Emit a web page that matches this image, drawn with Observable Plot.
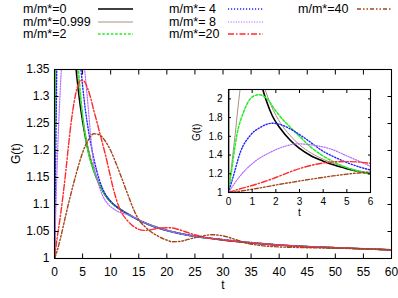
<!DOCTYPE html>
<html><head><meta charset="utf-8">
<script src="https://cdn.jsdelivr.net/npm/d3@7"></script>
<script src="https://cdn.jsdelivr.net/npm/@observablehq/plot@0.6"></script>
<style>
body{margin:0;background:#fff;font-family:"Liberation Sans",Arial,Helvetica,sans-serif;}
#wrap{position:relative;width:398px;height:298px;overflow:hidden;background:#fff}
#legend{position:relative;width:398px;height:48px;font-size:12.5px;color:#000}
.lab{position:absolute;white-space:pre;line-height:12px}
.smp{position:absolute}
#inset{position:absolute;left:190px;top:80px}
svg{display:block}
</style></head><body>
<div id="wrap"><div id="legend"></div><div id="main"></div><div id="inset"></div></div>
<script>
// ---- data ----
const seriesLabels = ["m/m*=0","m/m*=0.999","m/m*=2","m/m*= 4","m/m*= 8","m/m*=20","m/m*=40"];

const t0 = [0,0.01,1.0,1.45,1.6,1.85,2.2,2.6,3,3.5,4,4.5,5,5.5,6,7,8,9,10,11,12,13,14,15,16.5,18,20,22,25,28,32,36,40,45,50,55,60];
const g0 = [1,3.2,2.7,2.1,1.98,1.82,1.68,1.56,1.47,1.39,1.335,1.29,1.255,1.225,1.2,1.163,1.137,1.118,1.105,1.096,1.089,1.083,1.077,1.071,1.064,1.058,1.052,1.047,1.041,1.037,1.032,1.028,1.025,1.022,1.02,1.018,1.016];

const t0999 = [0,0.25,0.5,1.0,1.52,1.8,2.2,2.6,3,3.5,4,4.5,5,5.5,6,7,8,9,10,12,15,20,25,30,40,50,60];
const g0999 = [1,1.55,2.12,2.6,2.12,1.93,1.74,1.61,1.51,1.42,1.355,1.305,1.265,1.232,1.205,1.165,1.138,1.119,1.106,1.09,1.072,1.053,1.041,1.035,1.025,1.02,1.016];

const t2 = [0,0.14,0.35,0.64,1.0,1.3,1.63,2.0,2.4,2.6,3,3.5,4,4.5,5,5.5,6,7,8,9,10,12,15,20,25,30,40,50,60];
const g2 = [1,1.25,1.61,1.86,2.02,2.045,2.0,1.87,1.75,1.70,1.6,1.48,1.39,1.32,1.265,1.225,1.197,1.162,1.137,1.118,1.105,1.089,1.071,1.052,1.041,1.035,1.025,1.02,1.016];

const t4 = [0,0.21,0.5,0.92,1.34,1.85,2.2,2.6,3.17,4.0,4.5,5,5.5,6,7,8,9,10,12,15,20,25,30,40,50,60];
const g4 = [1,1.18,1.43,1.61,1.695,1.74,1.725,1.68,1.59,1.44,1.375,1.32,1.275,1.24,1.185,1.145,1.12,1.106,1.089,1.071,1.052,1.041,1.035,1.025,1.02,1.016];

const t8 = [0,0.5,1.06,1.77,2.47,2.9,3.46,4.3,5.15,6,6.5,7,7.5,8,8.5,9.5,10.5,11.5,12.5,14,16.5,20,25,30,40,50,60];
const g8 = [1,1.18,1.32,1.43,1.5,1.52,1.51,1.466,1.374,1.28,1.22,1.175,1.15,1.132,1.118,1.101,1.092,1.086,1.083,1.077,1.064,1.052,1.041,1.035,1.025,1.02,1.016];

const t20 = [0,0.5,1,1.5,2,2.5,3,3.5,4,4.5,5,5.5,6,6.5,7,7.5,8,8.5,9,9.5,10,10.5,11,11.5,12,13,14,15,16,17,18.5,20.5,22,24,26,28,32,36,40,45,50,55,60];
const g20 = [1,1.04,1.075,1.115,1.16,1.21,1.255,1.29,1.315,1.328,1.33,1.325,1.312,1.295,1.274,1.255,1.235,1.215,1.195,1.173,1.15,1.128,1.11,1.095,1.084,1.07,1.06,1.054,1.052,1.053,1.056,1.057,1.054,1.047,1.041,1.037,1.032,1.028,1.025,1.022,1.02,1.018,1.016];

const t40 = [0,0.5,1,1.5,2,2.5,3,3.5,4,4.5,5,5.5,6,7,8,9,10,11,12,13,14,15,16,17,18.5,20,21,22.5,24,26,28,30,32,34,36,39,45,50,55,60];
const g40 = [1,1.015,1.035,1.057,1.08,1.102,1.123,1.143,1.162,1.18,1.196,1.209,1.219,1.231,1.229,1.218,1.2,1.175,1.148,1.12,1.093,1.072,1.06,1.051,1.041,1.034,1.031,1.032,1.036,1.041,1.044,1.042,1.036,1.029,1.025,1.022,1.02,1.019,1.018,1.016];

const mainXTicks = [0,5,10,15,20,25,30,35,40,45,50,55,60];
const mainYTicks = [1,1.05,1.1,1.15,1.2,1.25,1.3,1.35];
const insetXTicks = [0,1,2,3,4,5,6];
const insetYTicks = [1,1.2,1.4,1.6,1.8,2];

// ---- styles ----
const seriesT = [t0,t0999,t2,t4,t8,t20,t40];
const seriesG = [g0,g0999,g2,g4,g8,g20,g40];
const styles = [
  {stroke:"#000000", strokeWidth:1.6, strokeDasharray:null},
  {stroke:"#a8927c", strokeWidth:1, strokeDasharray:null},
  {stroke:"#22ee22", strokeWidth:1.5, strokeDasharray:"2.5,1.8"},
  {stroke:"#2222ff", strokeWidth:1.4, strokeDasharray:"1.2,1.8"},
  {stroke:"#b46cff", strokeWidth:1.2, strokeDasharray:"1.2,1.4"},
  {stroke:"#ff2a2a", strokeWidth:1.4, strokeDasharray:"6,2,1.5,2"},
  {stroke:"#a3441a", strokeWidth:1.4, strokeDasharray:"4,2,1.5,2,1.5,2"}
];
const series = seriesLabels.map((name,i)=>({name, data: seriesT[i].map((t,j)=>({t, g: seriesG[i][j]})), style: styles[i]}));

function lineMarks(){
  return series.map(s => Plot.line(s.data, {x:"t", y:"g", curve:"monotone-x", clip:true, ...s.style}));
}

// ---- legend ----
const legend = document.getElementById("legend");
const legPos = [[23,98,8.5],[23,98,21.5],[23,98,34],[169,228,8.5],[169,228,21.5],[169,228,34],[298,357,8.5]];
series.forEach((s,i)=>{
  const [lx,sx,cy] = legPos[i];
  const lab = document.createElement("div");
  lab.className="lab"; lab.textContent=s.name;
  lab.style.left=lx+"px"; lab.style.top=(cy-6)+"px";
  legend.appendChild(lab);
  const svg = d3.create("svg").attr("class","smp").attr("width",36).attr("height",6)
    .style("left",sx+"px").style("top",(cy-3)+"px");
  svg.append("line").attr("x1",0).attr("x2",35).attr("y1",3).attr("y2",3)
    .attr("stroke",s.style.stroke).attr("stroke-width",s.style.strokeWidth)
    .attr("stroke-dasharray",s.style.strokeDasharray);
  legend.appendChild(svg.node());
});

// ---- main plot ----
const fmt = d => String(d);
const main = Plot.plot({
  width:398, height:250,
  marginTop:21, marginBottom:40, marginLeft:54, marginRight:7,
  style:{fontFamily:"Liberation Sans, Arial, sans-serif", fontSize:"12px", color:"#000", background:"transparent"},
  x:{domain:[0,60], label:null},
  y:{domain:[1,1.35], label:null},
  marks:[
    ...lineMarks(),
    Plot.frame({stroke:"#000", strokeWidth:1.1}),
    Plot.axisX(mainXTicks, {anchor:"bottom", tickSize:-4.5, tickPadding:13, tickFormat:fmt, label:null}),
    Plot.axisX(mainXTicks, {anchor:"top", tickSize:-4.5, tickFormat:()=>"", label:null}),
    Plot.axisY(mainYTicks, {anchor:"left", tickSize:-4.5, tickPadding:9.5, tickFormat:fmt, label:null}),
    Plot.axisY(mainYTicks, {anchor:"right", tickSize:-4.5, tickFormat:()=>"", label:null}),
    Plot.text(["G(t)"], {frameAnchor:"left", dx:-38, rotate:-90, fill:"#000", fontSize:12}),
    Plot.text(["t"], {frameAnchor:"bottom", dy:30, fill:"#000", fontSize:12})
  ]
});
document.getElementById("main").appendChild(main);

// ---- inset ----
const inset = Plot.plot({
  width:190, height:140,
  marginTop:9, marginBottom:28, marginLeft:38, marginRight:10,
  style:{fontFamily:"Liberation Sans, Arial, sans-serif", fontSize:"10px", color:"#000", background:"transparent"},
  x:{domain:[0,6], label:null},
  y:{domain:[1,2.1], label:null},
  marks:[
    Plot.frame({fill:"#fff", stroke:null}),
    ...lineMarks(),
    Plot.frame({stroke:"#000", strokeWidth:1.1}),
    Plot.axisX(insetXTicks, {anchor:"bottom", tickSize:-3, tickPadding:8, tickFormat:fmt, label:null}),
    Plot.axisX(insetXTicks, {anchor:"top", tickSize:-3, tickFormat:()=>"", label:null}),
    Plot.axisY(insetYTicks, {anchor:"left", tickSize:-3, tickPadding:9, tickFormat:fmt, label:null}),
    Plot.axisY(insetYTicks, {anchor:"right", tickSize:-3, tickFormat:()=>"", label:null}),
    Plot.text(["G(t)"], {frameAnchor:"left", dx:-32, rotate:-90, fill:"#000", fontSize:10}),
    Plot.text(["t"], {frameAnchor:"bottom", dy:23.5, fill:"#000", fontSize:10})
  ]
});
document.getElementById("inset").appendChild(inset);
</script>
</body></html>
